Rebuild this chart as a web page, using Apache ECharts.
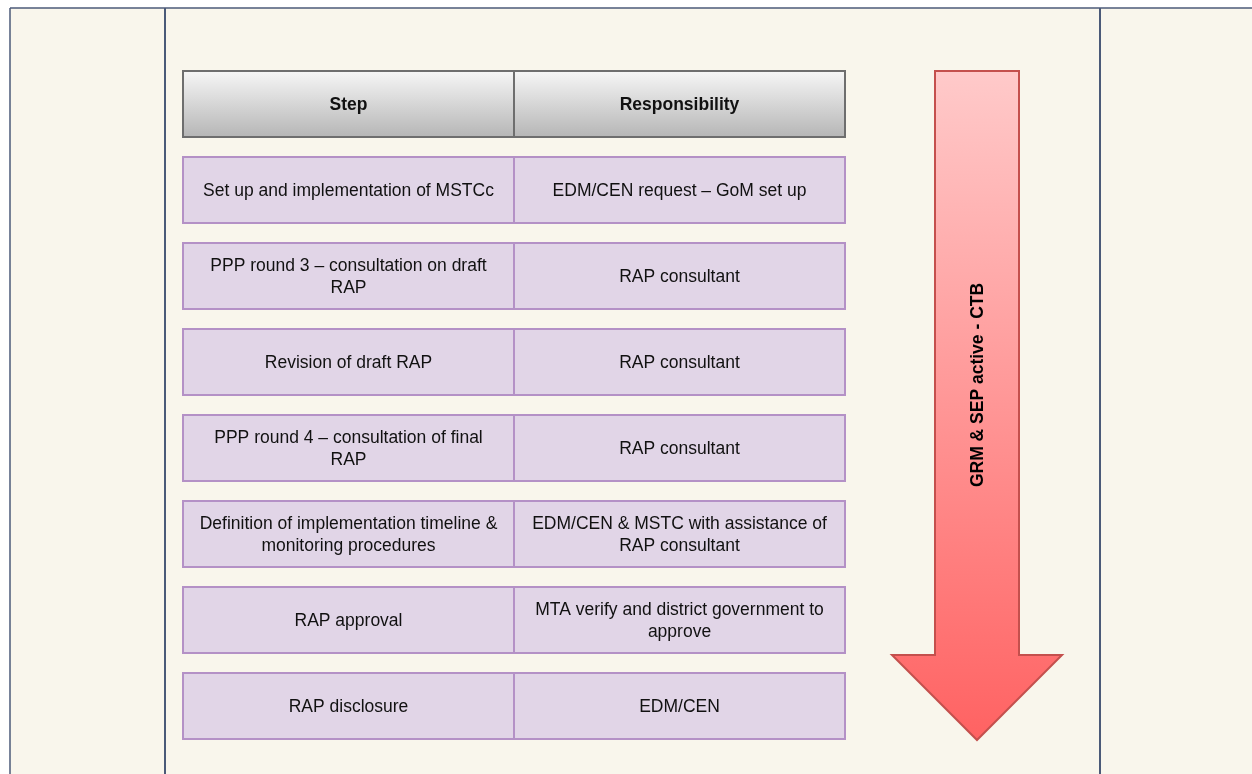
<!DOCTYPE html>
<html>
<head>
<meta charset="utf-8">
<script src="https://cdn.jsdelivr.net/npm/echarts@6/dist/echarts.min.js"></script>
<style>
html,body{margin:0;padding:0;background:#ffffff;}
#chart{width:1252px;height:774px;}
</style>
</head>
<body>
<div id="chart"></div>
<script>
// ---- data ----
const columns = ['Step', 'Responsibility'];
const rowKeys = ['header', 'r1', 'r2', 'r3', 'r4', 'r5', 'r6', 'r7'];
const steps = [
  'Set up and implementation of MSTCc',
  'PPP round 3 \u2013 consultation on draft\nRAP',
  'Revision of draft RAP',
  'PPP round 4 \u2013 consultation of final\nRAP',
  'Definition of implementation timeline &\nmonitoring procedures',
  'RAP approval',
  'RAP disclosure'
];
const responsibilities = [
  'EDM/CEN request \u2013 GoM set up',
  'RAP consultant',
  'RAP consultant',
  'RAP consultant',
  'EDM/CEN & MSTC with assistance of\nRAP consultant',
  'MTA verify and district government to\napprove',
  'EDM/CEN'
];
const arrowLabel = 'GRM & SEP active - CTB';

// ---- build cell table ----
const cells = [];
columns.forEach((c, ci) => cells.push({ value: [ci, 0], text: c, header: true }));
steps.forEach((s, i) => {
  cells.push({ value: [0, i + 1], text: s, header: false });
  cells.push({ value: [1, i + 1], text: responsibilities[i], header: false });
});

const chart = echarts.init(document.getElementById('chart'));

const headerFill = new echarts.graphic.LinearGradient(0, 0, 0, 1, [
  { offset: 0, color: '#f7f7f7' }, { offset: 1, color: '#b5b5b5' }
]);
const arrowFill = new echarts.graphic.LinearGradient(0, 0, 0, 1, [
  { offset: 0, color: '#ffcaca' }, { offset: 1, color: '#ff6262' }
]);

const frameColor = '#4b5a78';

chart.setOption({
  animation: false,
  backgroundColor: '#ffffff',
  grid: { left: 183, right: 407, top: 61, bottom: 25 },
  xAxis: { type: 'category', data: columns, show: false },
  yAxis: { type: 'category', data: rowKeys, inverse: true, show: false },
  graphic: [
    { type: 'rect', z: -10, shape: { x: 10, y: 8, width: 1242, height: 766 }, style: { fill: '#f9f6ec' } },
    { type: 'line', z: -5, shape: { x1: 10, y1: 8, x2: 1252, y2: 8 }, style: { stroke: frameColor, lineWidth: 1.5 } },
    { type: 'line', z: -5, shape: { x1: 10, y1: 8, x2: 10, y2: 774 }, style: { stroke: frameColor, lineWidth: 1.5 } },
    { type: 'line', z: -5, shape: { x1: 165, y1: 8, x2: 165, y2: 774 }, style: { stroke: frameColor, lineWidth: 2 } },
    { type: 'line', z: -5, shape: { x1: 1100, y1: 8, x2: 1100, y2: 774 }, style: { stroke: frameColor, lineWidth: 2 } },
    {
      type: 'polygon',
      shape: { points: [[935, 71], [1019, 71], [1019, 655], [1062, 655], [977, 740], [892, 655], [935, 655]] },
      style: { fill: arrowFill, stroke: '#c4504d', lineWidth: 2 }
    },
    {
      type: 'text', x: 978, y: 385, rotation: Math.PI / 2,
      style: {
        text: arrowLabel, align: 'center', verticalAlign: 'middle',
        font: 'bold 17.5px "Liberation Sans", Arial, sans-serif', fill: '#000000'
      }
    }
  ],
  series: [{
    type: 'custom',
    data: cells,
    renderItem: function (params, api) {
      const item = cells[params.dataIndex];
      const center = api.coord([api.value(0), api.value(1)]);
      const size = api.size([1, 1]);
      const w = size[0];
      const h = size[1] * 66 / 86;
      return {
        type: 'group',
        children: [
          {
            type: 'rect',
            shape: { x: center[0] - w / 2, y: center[1] - h / 2, width: w, height: h },
            style: item.header
              ? { fill: headerFill, stroke: '#6e6e6e', lineWidth: 2 }
              : { fill: '#e1d5e7', stroke: '#b491c6', lineWidth: 2 }
          },
          {
            type: 'text',
            x: center[0], y: center[1] + 1,
            style: {
              text: item.text, align: 'center', verticalAlign: 'middle',
              font: (item.header ? 'bold ' : '') + '17.5px "Liberation Sans", Arial, sans-serif',
              lineHeight: 22, fill: '#111111'
            }
          }
        ]
      };
    }
  }]
});
</script>
</body>
</html>
